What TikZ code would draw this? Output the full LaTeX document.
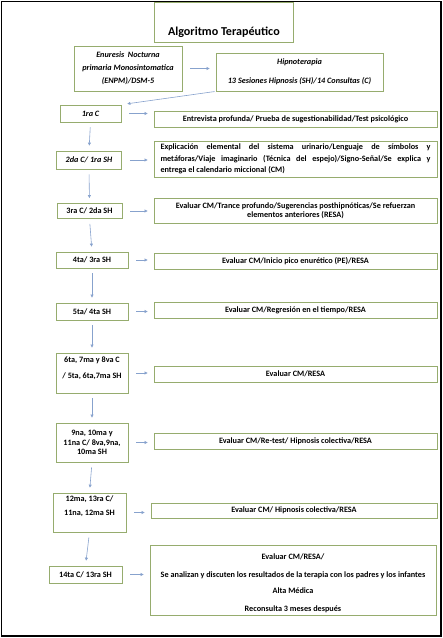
\documentclass[tikz,border=0pt]{standalone}
\usepackage{fontspec}
\setmainfont{Carlito}
\usepackage{tikz}
\usetikzlibrary{arrows.meta}
\definecolor{boxgreen}{RGB}{150,172,110}
\definecolor{arrblue}{RGB}{135,162,205}
\tikzstyle{bx} = [draw=boxgreen, line width=0.8pt, inner sep=1pt, align=center, font=\bfseries\fontsize{8.2}{9.5}\selectfont]
\tikzstyle{ibx} = [bx, font=\bfseries\itshape\fontsize{8.2}{9.5}\selectfont]
\tikzstyle{es} = [-{Triangle[length=3pt,width=3pt]}, draw=arrblue, line width=0.6pt]
\tikzstyle{hs} = [es, shorten <=8pt, shorten >=6pt]
\tikzstyle{vs} = [es, shorten <=5pt, shorten >=5pt]

\begin{document}
\begin{tikzpicture}[yscale=-1]
			\useasboundingbox (0pt,0pt) rectangle (443pt,638pt);
			\draw[line width=1.5pt] (1.5pt,1.5pt) rectangle (441pt,636pt);
			\node[bx, anchor=north west, minimum width=139pt, text height=33pt, text depth=7pt, inner sep=0pt, font=\bfseries\fontsize{12.1}{14}\selectfont] (title) at (154pt,2pt) {Algoritmo Terapéutico};
			\node[ibx, minimum width=108pt, minimum height=45pt] (enpm) at (128pt,68.5pt) {Enuresis\ \ Nocturna\\[3.5pt]primaria Monosintomatica\\[3.5pt](ENPM)/DSM-5};
			\node[ibx, minimum width=167pt, minimum height=38pt] (hip) at (299.5pt,72pt) {Hipnoterapia\\[9.5pt]13 Sesiones Hipnosis (SH)/14 Consultas (C)};
			% sesiones
			\node[ibx, minimum width=61pt, minimum height=17pt] (c1) at (90.5pt,113.5pt) {1ra C};
			\node[ibx, minimum width=65pt, minimum height=18pt] (c2) at (89pt,160pt) {2da C/ 1ra SH};
			\node[bx, minimum width=65pt, minimum height=15pt] (c3) at (89.5pt,211pt) {3ra C/ 2da SH};
			\node[bx, minimum width=72pt, minimum height=16pt] (c4) at (92pt,260pt) {4ta/ 3ra SH};
			\node[bx, minimum width=72pt, minimum height=17pt] (c5) at (92pt,311.5pt) {5ta/ 4ta SH};
			\node[bx, minimum width=72pt, minimum height=40pt] (c6) at (92pt,373pt) {6ta, 7ma y 8va C\\[6.5pt]/ 5ta, 6ta,7ma SH\\[1pt]\mbox{}};
			\node[bx, minimum width=72pt, minimum height=39pt] (c9) at (92pt,442.5pt) {9na, 10ma y\\11na C/ 8va,9na,\\10ma SH};
			\node[bx, minimum width=73pt, minimum height=39pt] (c12) at (89.5pt,512.5pt) {12ma, 13ra C/\\[4.5pt]11na, 12ma SH\\[4pt]\mbox{}};
			\node[bx, minimum width=73pt, minimum height=17pt] (c14) at (85.5pt,574.5pt) {14ta C/ 13ra SH};
			% contenidos
			\node[bx, minimum width=283pt, minimum height=16pt] (t1) at (295.5pt,119pt) {Entrevista profunda/ Prueba de sugestionabilidad/Test psicológico};
			\node[bx, minimum width=283pt, minimum height=36pt, align=justify, text width=270pt, font=\bfseries\fontsize{8.2}{11.5}\selectfont] (t2) at (295.5pt,159pt) {Explicación elemental del sistema urinario/Lenguaje de símbolos y\linebreak metáforas/Viaje imaginario (Técnica del espejo)/Signo-Señal/Se explica y\linebreak entrega el calendario miccional (CM)};
			\node[bx, minimum width=283pt, minimum height=25pt] (t3) at (295.5pt,210.5pt) {Evaluar CM/Trance profundo/Sugerencias posthipnóticas/Se refuerzan\\elementos anteriores (RESA)};
			\node[bx, minimum width=283pt, minimum height=16pt] (t4) at (295.5pt,261pt) {Evaluar CM/Inicio pico enurético (PE)/RESA};
			\node[bx, minimum width=283pt, minimum height=16pt] (t5) at (295.5pt,310pt) {Evaluar CM/Regresión en el tiempo/RESA};
			\node[bx, minimum width=283pt, minimum height=16pt] (t6) at (295.5pt,374pt) {Evaluar CM/RESA};
			\node[bx, minimum width=283pt, minimum height=16pt] (t9) at (295.5pt,441pt) {Evaluar CM/Re-test/ Hipnosis colectiva/RESA};
			\node[bx, minimum width=286pt, minimum height=15pt] (t12) at (294pt,510.5pt) {Evaluar CM/ Hipnosis colectiva/RESA};
			\node[bx, minimum width=286pt, minimum height=70pt] (t14) at (293pt,580pt) {\rule{0pt}{12pt}Evaluar CM/RESA/\\[8.2pt]Se analizan y discuten los resultados de la terapia con los padres y los infantes\\[6.8pt]Alta Médica\\[8pt]Reconsulta 3 meses después};
			% flechas
			\draw[hs] (enpm.east) -- (enpm.east -| hip.west);
			\draw[es, shorten <=1pt, shorten >=6pt] (hip.south west) -- (c1.north east);
			\draw[vs] (c1.south) -- (c2.north);
			\draw[vs] (c2.south) -- (c3.north);
			\draw[vs] (c3.south) -- (c4.north);
			\draw[vs] (c4.south) -- (c5.north);
			\draw[vs] (c5.south) -- (c6.north);
			\draw[vs] (c6.south) -- (c9.north);
			\draw[vs] (c9.south) -- (c12.north);
			\draw[vs] (c12.south) -- (c14.north);
			\draw[hs] (c1.east) -- (c1.east -| t1.west);
			\draw[hs] (c2.east) -- (c2.east -| t2.west);
			\draw[hs] (c3.east) -- (c3.east -| t3.west);
			\draw[hs] (c4.east) -- (c4.east -| t4.west);
			\draw[hs] (c5.east) -- (c5.east -| t5.west);
			\draw[hs] (c6.east) -- (c6.east -| t6.west);
			\draw[hs] (c9.east) -- (c9.east -| t9.west);
			\draw[hs] (c12.east) -- (c12.east -| t12.west);
			\draw[hs] (c14.east) -- (c14.east -| t14.west);
		\end{tikzpicture}
\end{document}
